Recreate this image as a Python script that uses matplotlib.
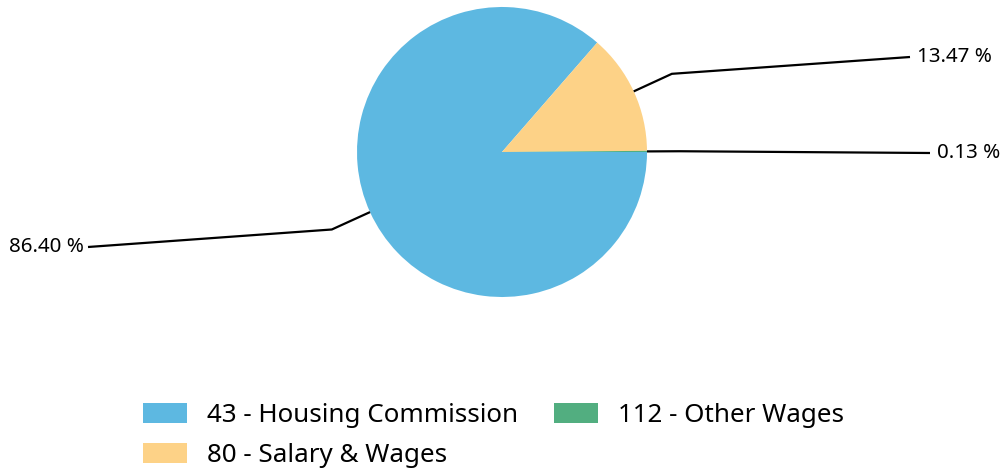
import numpy as np
import matplotlib
matplotlib.use('Agg')
import matplotlib.pyplot as plt

# data
categories = ['43 - Housing Commission', '80 - Salary & Wages', '112 - Other Wages']
shares = [86.40, 13.47, 0.13]
colors = ['#5DB8E1', '#FDD287', '#52AE80']

plt.rcParams['font.family'] = ['Noto Sans', 'DejaVu Sans']

W, H = 1002, 470
fig = plt.figure(figsize=(W / 100, H / 100), dpi=100)
ax = fig.add_axes([0, 0, 1, 1])

cx, cy, r = 502, H - 152, 145
wedges, _ = ax.pie(shares, colors=colors, startangle=0, counterclock=False,
                   center=(cx, cy), radius=r, frame=True,
                   wedgeprops=dict(linewidth=0))
ax.set_xlim(0, W)
ax.set_ylim(0, H)
ax.set_aspect('equal')
ax.axis('off')

# leader line ends / label anchors (pixels from top-left)
label_ends = [(88, 247), (910, 57), (930, 153)]
for w, val, (ex, ey) in zip(wedges, shares, label_ends):
    mid = np.deg2rad((w.theta1 + w.theta2) / 2)
    x0, y0 = cx + r * np.cos(mid), cy + r * np.sin(mid)
    x1, y1 = cx + 187 * np.cos(mid), cy + 187 * np.sin(mid)
    if val < 1:
        x1 = cx + 178
    ey = H - ey
    ax.plot([x0, x1, ex], [y0, y1, ey], color='black', lw=1.6,
            solid_joinstyle='miter', solid_capstyle='butt')
    if ex < cx:
        ax.text(ex - 4, ey, f'{val:.2f} %', ha='right', va='center', fontsize=14.8)
    else:
        ax.text(ex + 7, ey, f'{val:.2f} %', ha='left', va='center', fontsize=14.8)

fs = 18.7
px = fs * 100 / 72
leg = fig.legend(wedges, categories, ncol=2, loc='upper left',
                 bbox_to_anchor=(143 / W, 1 - 403 / H), frameon=False,
                 fontsize=fs, handlelength=44 / px, handleheight=20 / px,
                 handletextpad=20 / px, columnspacing=36 / px,
                 labelspacing=0.58, borderpad=0, borderaxespad=0)

fig.savefig('out.png', dpi=100)
